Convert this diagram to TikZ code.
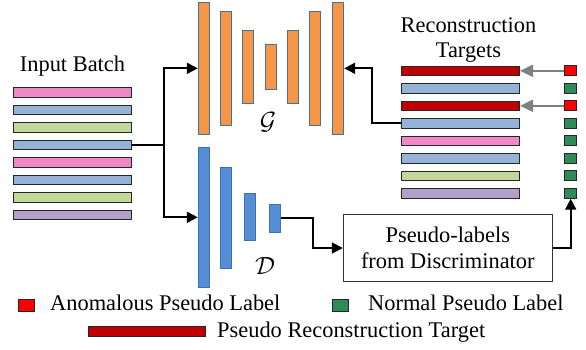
\documentclass[tikz,border=0pt]{standalone}
\usepackage{fontspec}
\setmainfont{Liberation Serif}
\usetikzlibrary{arrows.meta}
\definecolor{cpink}{HTML}{F088C8}
\definecolor{cblue}{HTML}{95B3D7}
\definecolor{cgreen}{HTML}{C4D79B}
\definecolor{cpurple}{HTML}{B1A0C7}
\definecolor{cdred}{HTML}{C00000}
\definecolor{cred}{HTML}{FF0000}
\definecolor{csq}{HTML}{2E8B57}
\definecolor{corange}{HTML}{F79646}
\definecolor{corangeedge}{HTML}{41719C}
\definecolor{cdblue}{HTML}{558ED5}
\definecolor{cdblueedge}{HTML}{3F72B5}
\tikzset{
  batchbar/.style={draw=black!85, line width=1pt, inner sep=0pt, minimum width=118pt, minimum height=9.5pt},
  sqbox/.style={draw=black!85, line width=0.8pt, inner sep=0pt, minimum width=12pt, minimum height=10pt},
  gbar/.style={fill=corange, draw=corangeedge, line width=1pt, inner sep=0pt, minimum width=11pt},
  dbar/.style={fill=cdblue, draw=cdblueedge, line width=1pt, inner sep=0pt, minimum width=11pt},
  arr/.style={line width=1.8pt, -{Triangle[length=11pt,width=11pt]}},
  grayarr/.style={draw=gray, line width=2pt, -{Triangle[length=13pt,width=12pt]}},
  lbl/.style={font=\fontsize{22.4}{25.5}\selectfont, inner sep=0pt},
}
\begin{document}
\begin{tikzpicture}[x=1pt,y=-1pt]
\useasboundingbox (0,0) rectangle (586,349);
% Input batch
\node[lbl, anchor=base] (inlbl) at (72.5,71) {Input Batch};
\node[batchbar, fill=cpink]   (in1) at (72.5,92.5) {};
\node[batchbar, fill=cblue]   (in2) at (72.5,110) {};
\node[batchbar, fill=cgreen]  (in3) at (72.5,127.5) {};
\node[batchbar, fill=cblue]   (in4) at (72.5,145) {};
\node[batchbar, fill=cpink]   (in5) at (72.5,162.5) {};
\node[batchbar, fill=cblue]   (in6) at (72.5,180) {};
\node[batchbar, fill=cgreen]  (in7) at (72.5,197.5) {};
\node[batchbar, fill=cpurple] (in8) at (72.5,215) {};
% Generator
\node[gbar, minimum height=132pt] (g1) at (203.8,68.3) {};
\node[gbar, minimum height=114pt] (g2) at (226,68.3) {};
\node[gbar, minimum height=72.6pt] (g3) at (248.2,67) {};
\node[gbar, minimum height=45pt] (g4) at (270.5,66.8) {};
\node[gbar, minimum height=72.6pt] (g5) at (292.7,67) {};
\node[gbar, minimum height=114pt] (g6) at (314.7,68.3) {};
\node[gbar, minimum height=132pt] (g7) at (338.2,68.3) {};
\node[inner sep=0pt, font=\fontsize{25}{25}\selectfont] (glbl) at (268,122) {$\mathcal{G}$};
% Discriminator
\node[dbar, minimum height=140pt] (d1) at (203.8,217.3) {};
\node[dbar, minimum height=100.7pt] (d2) at (226,217.7) {};
\node[dbar, minimum height=46.7pt] (d3) at (250,217.3) {};
\node[dbar, minimum height=28pt] (d4) at (274.7,218) {};
\node[inner sep=0pt, font=\fontsize{27}{27}\selectfont] (dlbl) at (265,266) {$\mathcal{D}$};
% Reconstruction targets
\node[lbl, anchor=base] (rclbl1) at (468.5,32) {Reconstruction};
\node[lbl, anchor=base] (rclbl2) at (468.5,57) {Targets};
\node[batchbar, fill=cdred]   (rc1) at (460.5,70.8) {};
\node[batchbar, fill=cblue]   (rc2) at (460.5,88.3) {};
\node[batchbar, fill=cdred]   (rc3) at (460.5,105.8) {};
\node[batchbar, fill=cblue]   (rc4) at (460.5,123.3) {};
\node[batchbar, fill=cpink]   (rc5) at (460.5,140.8) {};
\node[batchbar, fill=cblue]   (rc6) at (460.5,158.3) {};
\node[batchbar, fill=cgreen]  (rc7) at (460.5,175.8) {};
\node[batchbar, fill=cpurple] (rc8) at (460.5,193.3) {};
% pseudo label squares
\node[sqbox, fill=cred] (sq1) at (570.7,70.8) {};
\node[sqbox, fill=csq]  (sq2) at (570.7,88.3) {};
\node[sqbox, fill=cred] (sq3) at (570.7,105.8) {};
\node[sqbox, fill=csq]  (sq4) at (570.7,123.3) {};
\node[sqbox, fill=csq]  (sq5) at (570.7,140.8) {};
\node[sqbox, fill=csq]  (sq6) at (570.7,158.3) {};
\node[sqbox, fill=csq]  (sq7) at (570.7,175.8) {};
\node[sqbox, fill=csq]  (sq8) at (570.7,193.3) {};
% Pseudo-label box
\node[draw=black!80, line width=1pt, minimum width=209pt, minimum height=67.4pt, align=center, font=\fontsize{22.4}{25.5}\selectfont] (box) at (447.8,248) {Pseudo-labels\\from Discriminator};
% connectors
\coordinate (split) at (164,145);
\draw[line width=1.8pt] (in4.east) -- (split);
\draw[arr] (split) |- (g1.west);
\draw[arr] (split) |- (d1.west);
\draw[arr] (rc4.west) -- ++(-29,0) |- (g7.east);
\draw[arr] (d4.east) -- ++(32,0) |- (box.west);
\draw[arr] (box.east) -| (sq8.south);
\draw[grayarr] (sq1.west) -- (rc1.east);
\draw[grayarr] (sq3.west) -- (rc3.east);
% legend
\node[sqbox, fill=cred, minimum width=16pt, minimum height=12.4pt] (lgred) at (26.3,305.5) {};
\node[lbl, anchor=base west] (lgredt) at (50,310.5) {Anomalous Pseudo Label};
\node[sqbox, fill=csq, minimum width=16pt, minimum height=12.4pt] (lggreen) at (340,305.5) {};
\node[lbl, anchor=base west] (lggreent) at (368,310.5) {Normal Pseudo Label};
\node[batchbar, fill=cdred, minimum width=117.4pt, minimum height=10pt] (lgbar) at (147,331) {};
\node[lbl, anchor=base west] (lgbart) at (217,337) {Pseudo Reconstruction Target};
\end{tikzpicture}
\end{document}
